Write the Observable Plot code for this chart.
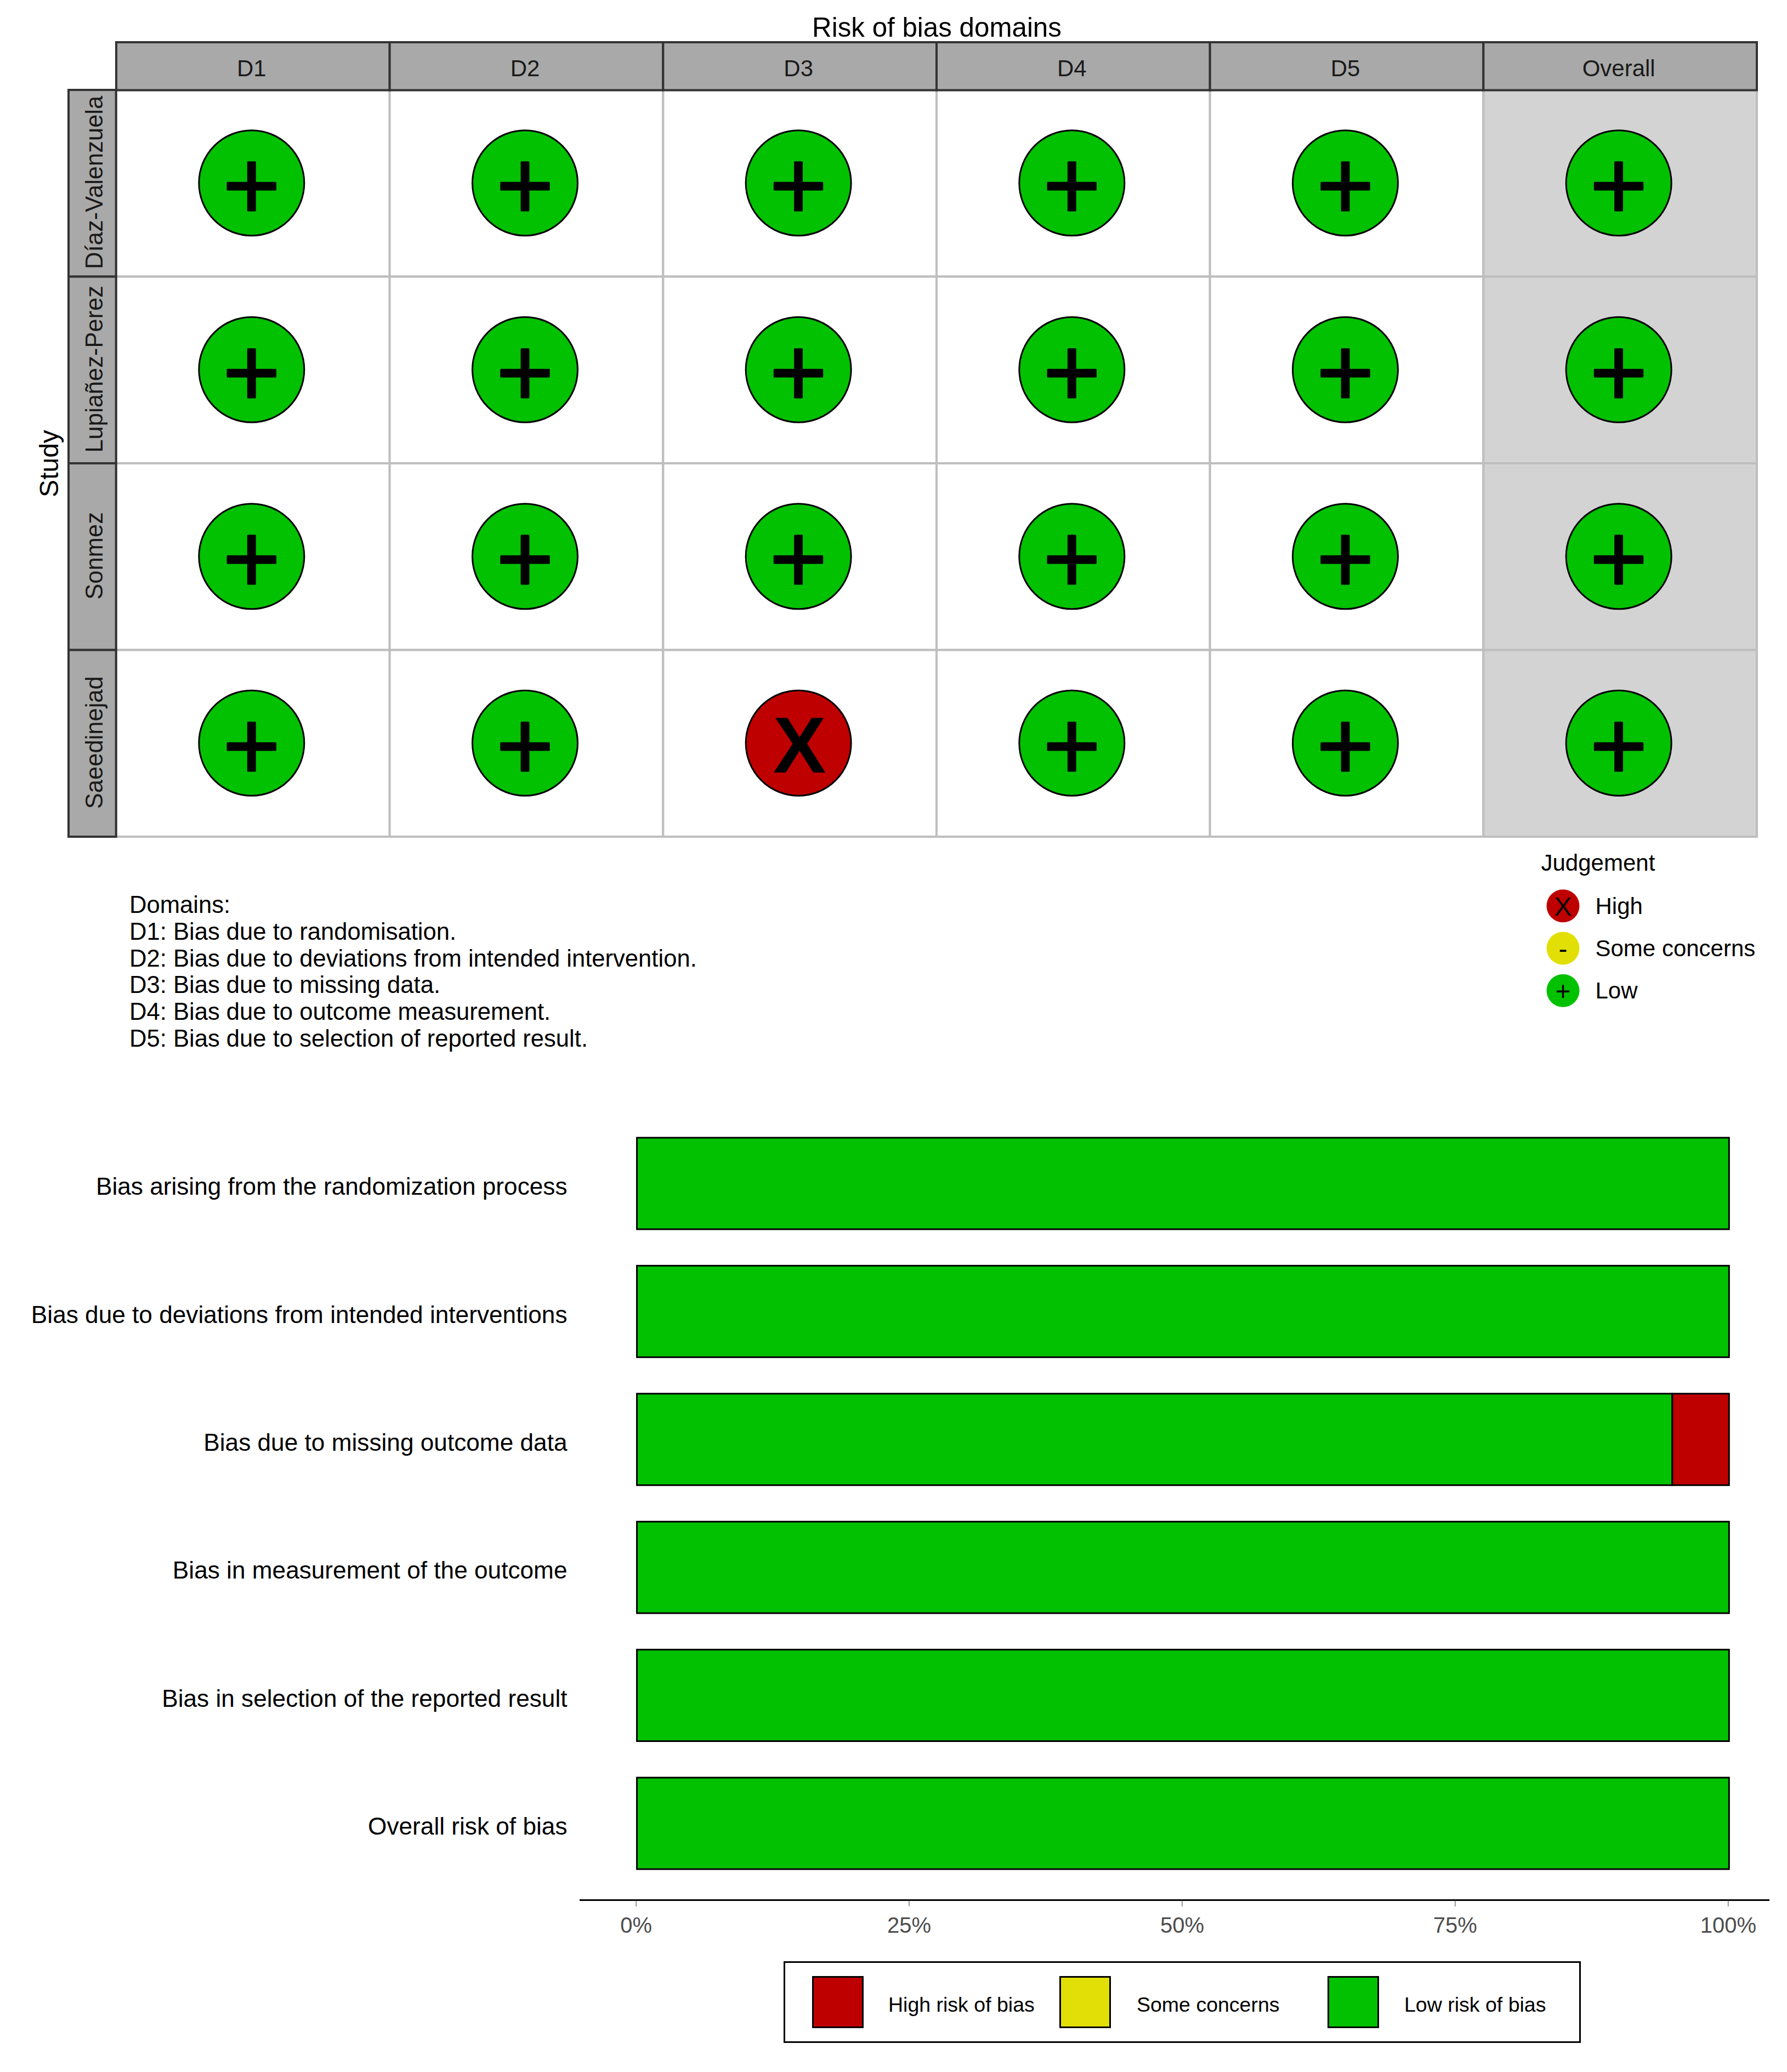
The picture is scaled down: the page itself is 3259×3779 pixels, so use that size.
<!DOCTYPE html>
<html><head><meta charset="utf-8">
<script src="https://cdn.jsdelivr.net/npm/d3@7"></script>
<script src="https://cdn.jsdelivr.net/npm/@observablehq/plot@0.6"></script>
<style>
html,body{margin:0;padding:0;background:#fff;}
#root{position:relative;width:3259px;height:3779px;font-family:"Liberation Sans",Arial,sans-serif;overflow:hidden;}
#root svg{position:absolute;background:transparent;font-family:"Liberation Sans",Arial,sans-serif;}
.abs{position:absolute;white-space:pre;color:#000;}
</style></head><body><div id="root"></div>
<script>
const studies = ["Díaz-Valenzuela","Lupiañez-Perez","Sonmez","Saeedinejad"];
const domains = ["D1","D2","D3","D4","D5","Overall"];
const rowDiaz = ["Low","Low","Low","Low","Low","Low"];
const rowLupianez = ["Low","Low","Low","Low","Low","Low"];
const rowSonmez = ["Low","Low","Low","Low","Low","Low"];
const rowSaeedinejad = ["Low","Low","High","Low","Low","Low"];
const judgementRows = [rowDiaz,rowLupianez,rowSonmez,rowSaeedinejad];
const judgementLevels = ["High","Some concerns","Low"];
const judgementGlyphs = ["X","-","+"];
const judgementColors = ["#BF0000","#E2DF07","#02C100"];
const domainNotes = ["Domains:","D1: Bias due to randomisation.","D2: Bias due to deviations from intended intervention.","D3: Bias due to missing data.","D4: Bias due to outcome measurement.","D5: Bias due to selection of reported result."];
const barLabels = ["Bias arising from the randomization process","Bias due to deviations from intended interventions","Bias due to missing outcome data","Bias in measurement of the outcome","Bias in selection of the reported result","Overall risk of bias"];
const lowPct = [100,100,94.8,100,100,100];
const highPct = [0,0,5.2,0,0,0];
const concernPct = [0,0,0,0,0,0];
const barLevels = ["High risk of bias","Some concerns","Low risk of bias"];
const tickValues = [0,25,50,75,100];

const root = document.getElementById("root");
const grid = studies.flatMap((s,i)=>domains.map((d,j)=>({study:s,domain:d,judgement:judgementRows[i][j]})));
const colorOf = Object.fromEntries(judgementLevels.map((l,i)=>[l,judgementColors[i]]));
const glyphOf = Object.fromEntries(judgementLevels.map((l,i)=>[l,judgementGlyphs[i]]));

const topPlot = Plot.plot({
  width:3259,height:1560,marginLeft:212,marginRight:55,marginTop:164,marginBottom:34,
  x:{domain:domains,padding:0,round:false,axis:null},
  y:{domain:studies,padding:0,round:false,axis:null},
  marks:[
    Plot.cell(grid,{x:"domain",y:"study",fill:d=>d.domain==="Overall"?"#d3d3d3":"#fff",stroke:"#bebebe",strokeWidth:4}),
    Plot.cell(domains,{x:d=>d,y:()=>studies[0],insetTop:-87,insetBottom:340,fill:"#a9a9a9",stroke:"#333",strokeWidth:4}),
    Plot.cell(studies,{y:d=>d,x:()=>domains[0],insetLeft:-87,insetRight:499,fill:"#a9a9a9",stroke:"#333",strokeWidth:4}),
    Plot.axisX({anchor:"top",label:null,tickSize:0,tickPadding:26,fontSize:42,color:"#1a1a1a",fill:"#1a1a1a",dx:-3}),
    Plot.axisY({anchor:"left",label:null,tickSize:0,tickPadding:26,tickRotate:-90,fontSize:43.5,color:"#1a1a1a",fill:"#1a1a1a",dy:-2}),
    Plot.dot(grid,{x:"domain",y:"study",r:96,dx:-3,dy:-1,fill:d=>colorOf[d.judgement],stroke:"#000",strokeWidth:3}),
    Plot.text(grid.filter(d=>d.judgement!=="High"),{x:"domain",y:"study",text:d=>glyphOf[d.judgement],fontSize:180,stroke:"#000",strokeWidth:3,fill:"#000",dx:-3,dy:8}),
    Plot.text(grid.filter(d=>d.judgement==="High"),{x:"domain",y:"study",text:d=>glyphOf[d.judgement],fontSize:145,fontWeight:"bold",fill:"#000",dx:-1,dy:6}),
    Plot.text(["Risk of bias domains"],{frameAnchor:"top",fontSize:49.3,fill:"#000",dy:-133}),
    Plot.text(["Study"],{frameAnchor:"left",textAnchor:"middle",dx:-122,rotate:-90,fontSize:48,fill:"#000"})
  ]
});
topPlot.style.left="0";topPlot.style.top="0";root.append(topPlot);

const jud = Plot.plot({
  width:460,height:360,marginLeft:0,marginRight:0,marginTop:65,marginBottom:63,
  x:{domain:[0,460],range:[0,460],axis:null},
  y:{type:"band",domain:judgementLevels,padding:0,round:false,axis:null},
  marks:[
    Plot.dot(judgementLevels,{y:d=>d,x:()=>50,r:30,fill:d=>colorOf[d]}),
    Plot.text(judgementLevels,{y:d=>d,x:()=>50,text:d=>glyphOf[d],fontSize:48,fill:"#000",dy:2}),
    Plot.text(judgementLevels,{y:d=>d,x:()=>109,text:d=>d,fontSize:42,fill:"#000",textAnchor:"start",dy:1}),
    Plot.text(["Judgement"],{frameAnchor:"top-left",dx:10,dy:-39,fontSize:42,fill:"#000",textAnchor:"start",lineAnchor:"middle"})
  ]
});
jud.style.left="2800px";jud.style.top="1548px";root.append(jud);

const notes=document.createElement("div");notes.className="abs";
notes.style.cssText+="left:236px;top:1626px;font-size:43.6px;line-height:48.8px;color:#000;";
notes.textContent=domainNotes.join("\n");root.append(notes);

const barRows = barLabels.flatMap((b,i)=>[
  {label:b,level:barLevels[2],value:lowPct[i]},
  {label:b,level:barLevels[1],value:concernPct[i]},
  {label:b,level:barLevels[0],value:highPct[i]}
]).filter(d=>d.value>0);
const bar = Plot.plot({
  width:3259,height:1640,marginLeft:1058,marginRight:34,marginTop:119,marginBottom:75,
  x:{domain:[-5.2,103.6],axis:null},
  y:{domain:barLabels,paddingInner:0.285,paddingOuter:0.24,round:false,axis:null},
  color:{domain:barLevels,range:judgementColors},
  marks:[
    Plot.barX(barRows,{x:"value",y:"label",fill:"level",stroke:"#000",strokeWidth:3}),
    Plot.frame({anchor:"bottom",stroke:"#000",strokeWidth:3}),
    Plot.axisX({anchor:"bottom",ticks:tickValues,tickFormat:d=>d+"%",tickSize:12,tickPadding:19,label:null,fontSize:40,color:"#333",fill:"#4d4d4d",stroke:"#333",dx:-2}),
    Plot.axisY({anchor:"left",label:null,tickSize:0,tickPadding:24,fontSize:44.2,color:"#000",fill:"#000",dy:6})
  ]
});
bar.style.left="0";bar.style.top="1900px";root.append(bar);

const box=document.createElement("div");
box.className="abs";
box.style.cssText+="left:1429px;top:3577px;width:1454px;height:149px;box-sizing:border-box;border:3px solid #000;";
root.append(box);
[[1481,1620],[1932,2073],[2421,2561]].forEach(([sx,tx],i)=>{
  const sw=document.createElement("div");sw.className="abs";
  sw.style.cssText+=`left:${sx}px;top:3604px;width:94px;height:95px;box-sizing:border-box;border:3px solid #000;background:${judgementColors[i]};`;
  root.append(sw);
  const t=document.createElement("div");t.className="abs";
  t.style.cssText+=`left:${tx}px;top:3634px;font-size:37.5px;line-height:44px;color:#000;`;
  t.textContent=barLevels[i];root.append(t);
});
</script></body></html>
